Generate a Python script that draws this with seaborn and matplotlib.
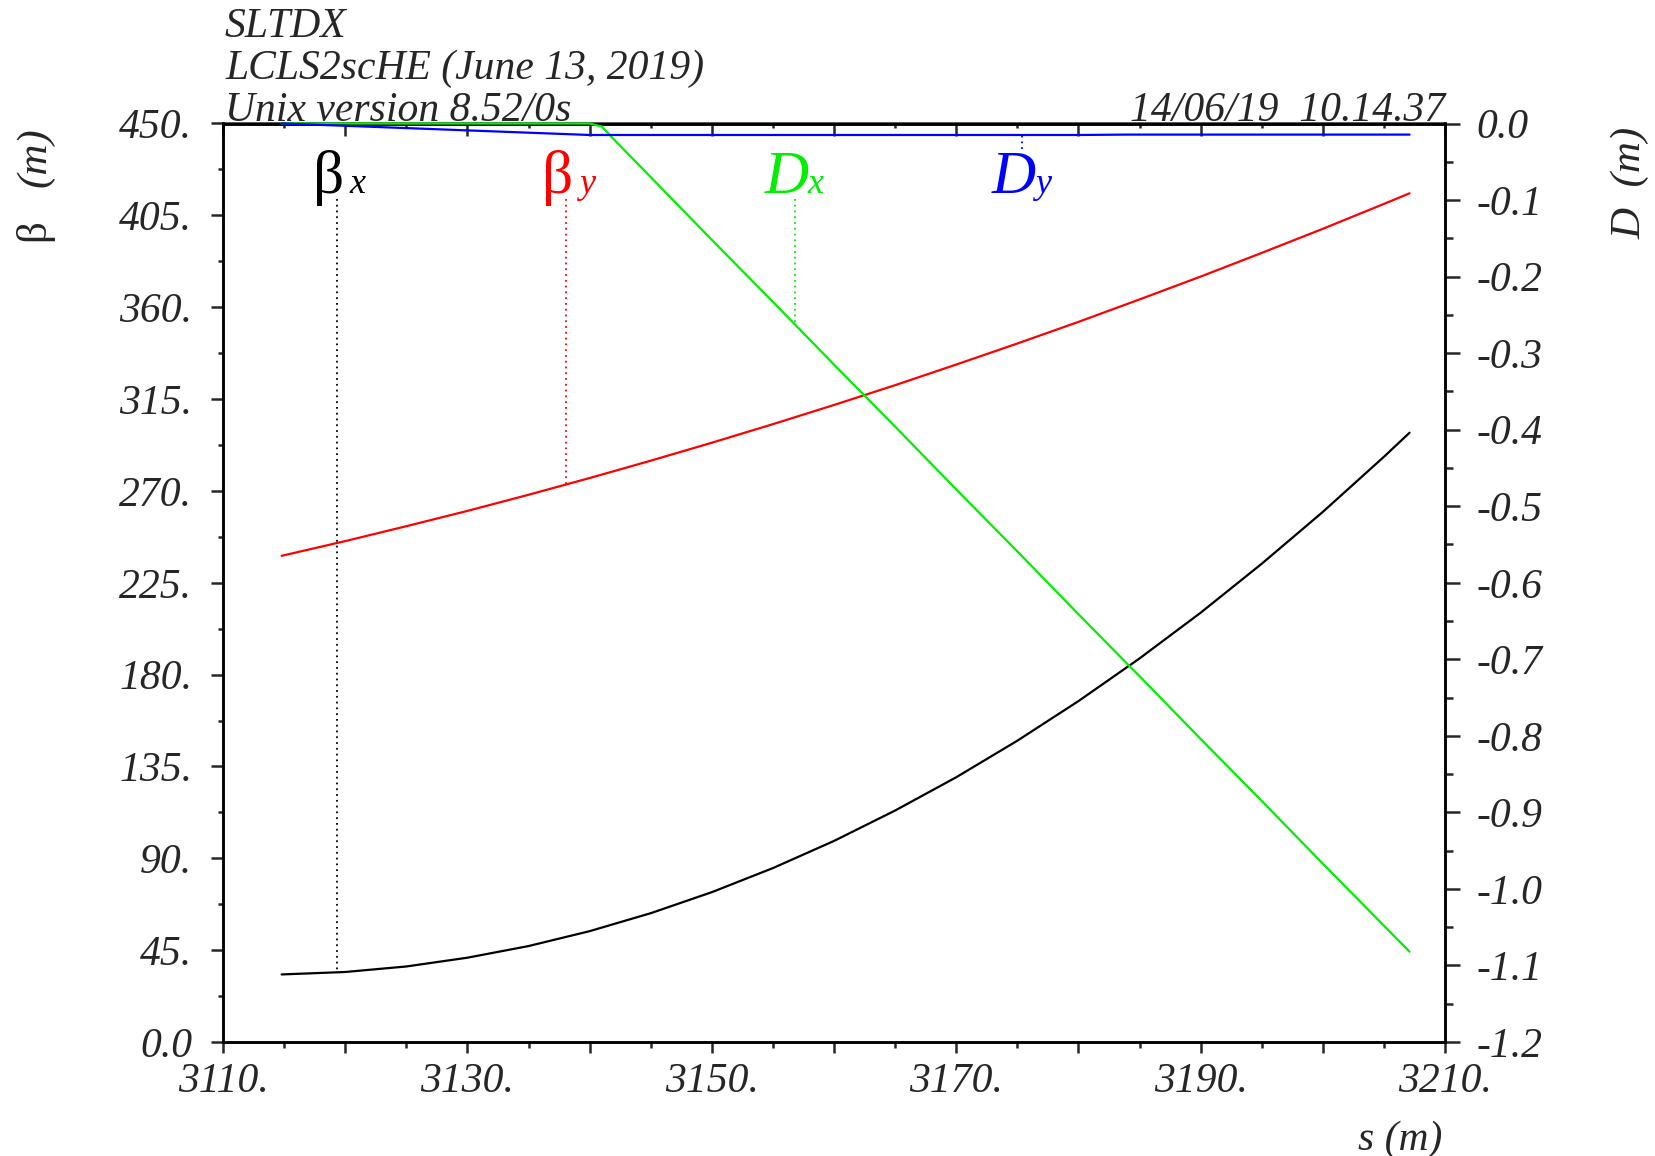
import numpy as np
import pandas as pd
import matplotlib
matplotlib.use("Agg")
import matplotlib.pyplot as plt
from matplotlib.ticker import FixedLocator, FixedFormatter, MultipleLocator, NullFormatter
import seaborn as sns

# ---------------- data ----------------
s_beta = [3114.8, 3120, 3125, 3130, 3135, 3140, 3145, 3150, 3155, 3160,
          3165, 3170, 3175, 3180, 3185, 3190, 3195, 3200, 3205, 3207.1]
beta_x = [33.1, 34.3, 37.0, 41.3, 47.0, 54.3, 63.1, 73.4, 85.2, 98.5,
          113.4, 129.7, 147.6, 167.0, 187.9, 210.3, 234.3, 259.7, 286.7, 298.5]
beta_y = [238.2, 245.4, 252.7, 260.2, 268.1, 276.3, 284.8, 293.6, 302.7, 312.1,
          321.8, 331.9, 342.2, 352.8, 363.8, 375.0, 386.6, 398.4, 410.6, 415.8]

s_disp = [3114.8, 3120, 3125, 3130, 3135, 3140, 3141, 3142, 3145, 3150, 3155,
          3160, 3165, 3170, 3175, 3180, 3184, 3185, 3190, 3195, 3200, 3205, 3207.1]
disp_x = [0.0, 0.0, 0.0, 0.0, 0.0, 0.0, -0.004, -0.021, -0.070, -0.152, -0.233,
          -0.315, -0.396, -0.478, -0.559, -0.641, -0.706, -0.722, -0.804, -0.885,
          -0.967, -1.048, -1.082]
disp_y = [0.0, -0.003, -0.006, -0.009, -0.012, -0.015, -0.015, -0.015, -0.015,
          -0.015, -0.015, -0.015, -0.015, -0.015, -0.015, -0.015, -0.0145, -0.0145,
          -0.0145, -0.0145, -0.0145, -0.0145, -0.0145]

x_ticks = [3110, 3120, 3130, 3140, 3150, 3160, 3170, 3180, 3190, 3200, 3210]
x_tick_labels = ["3110.", "", "3130.", "", "3150.", "", "3170.", "", "3190.", "", "3210."]
beta_ticks = [0, 45, 90, 135, 180, 225, 270, 315, 360, 405, 450]
beta_tick_labels = ["0.0", "45.", "90.", "135.", "180.", "225.", "270.", "315.",
                    "360.", "405.", "450."]
d_ticks = [0.0, -0.1, -0.2, -0.3, -0.4, -0.5, -0.6, -0.7, -0.8, -0.9, -1.0, -1.1, -1.2]
d_tick_labels = ["0.0", "-0.1", "-0.2", "-0.3", "-0.4", "-0.5", "-0.6", "-0.7",
                 "-0.8", "-0.9", "-1.0", "-1.1", "-1.2"]

header_lines = ["SLTDX", "LCLS2scHE (June 13, 2019)", "Unix version 8.52/0s"]
date_text = "14/06/19  10.14.37"

# label positions (s of the dotted leader lines)
lab_s = {"bx": 3119.3, "by": 3138.1, "dx": 3156.8, "dy": 3175.4}

# ---------------- style ----------------
sns.set_style("ticks")
plt.rcParams["font.family"] = ["Liberation Serif", "DejaVu Serif"]
plt.rcParams["font.style"] = "italic"

W, H = 1656, 1156
fig = plt.figure(figsize=(W / 100, H / 100), dpi=100)
L, R, T, B = 223, 1445, 123.5, 1042
ax = fig.add_axes([L / W, 1 - B / H, (R - L) / W, (B - T) / H])
ax2 = ax.twinx()

LW = 1.6
df_b = pd.DataFrame({"s": s_beta, "bx": beta_x, "by": beta_y})
df_d = pd.DataFrame({"s": s_disp, "dx": disp_x, "dy": disp_y})
sns.lineplot(data=df_b, x="s", y="bx", ax=ax, color="black", lw=LW, legend=False, zorder=3)
sns.lineplot(data=df_b, x="s", y="by", ax=ax, color="#ff0000", lw=LW, legend=False, zorder=3)
sns.lineplot(data=df_d, x="s", y="dx", ax=ax2, color="#00ee00", lw=LW, legend=False, zorder=3)
sns.lineplot(data=df_d, x="s", y="dy", ax=ax2, color="#0000ff", lw=LW, legend=False, zorder=3)
for a in (ax, ax2):
    for ln in a.get_lines():
        ln.set_clip_on(False)

ax.set_xlim(3110, 3210)
ax.set_ylim(0, 450)
ax2.set_ylim(-1.2, 0)
ax.set_xlabel("")
ax.set_ylabel("")
ax2.set_ylabel("")

TFS = 30
SPW = 1.8
for a in (ax, ax2):
    for sp in a.spines.values():
        sp.set_linewidth(SPW)
        sp.set_color("black")

ax.xaxis.set_major_locator(FixedLocator(x_ticks))
ax.xaxis.set_major_formatter(FixedFormatter(x_tick_labels))
ax.xaxis.set_minor_locator(MultipleLocator(5))
ax.yaxis.set_major_locator(FixedLocator(beta_ticks))
ax.yaxis.set_major_formatter(FixedFormatter(beta_tick_labels))
ax.yaxis.set_minor_locator(MultipleLocator(22.5))
ax2.yaxis.set_major_locator(FixedLocator(d_ticks))
ax2.yaxis.set_major_formatter(FixedFormatter(d_tick_labels))
ax2.yaxis.set_minor_locator(MultipleLocator(0.05))

ax.tick_params(axis="x", which="major", direction="out", length=8, width=SPW,
               labelsize=TFS, pad=7, top=False)
ax.tick_params(axis="x", which="minor", direction="out", length=4.3, width=SPW, top=False)
ax.tick_params(axis="y", which="major", direction="out", length=8.6, width=SPW,
               labelsize=TFS, pad=13.5, right=False)
ax.tick_params(axis="y", which="minor", direction="out", length=3.8, width=SPW, right=False)
ax2.tick_params(axis="y", which="major", direction="out", length=10.8, width=SPW,
                labelsize=TFS, pad=11.5)
ax2.tick_params(axis="y", which="minor", direction="out", length=5.8, width=SPW)

sec = ax.secondary_xaxis("top")
sec.xaxis.set_major_locator(FixedLocator(x_ticks))
sec.xaxis.set_minor_locator(MultipleLocator(5))
sec.xaxis.set_major_formatter(NullFormatter())
sec.tick_params(which="major", direction="in", length=9, width=SPW)
sec.tick_params(which="minor", direction="in", length=3.8, width=SPW)
sec.spines["top"].set_linewidth(SPW)

for lab in ax.get_xticklabels() + ax.get_yticklabels() + ax2.get_yticklabels():
    lab.set_fontstyle("italic")

# ---------------- texts ----------------
def fx(x):
    return x / W

def fy(y):
    return 1 - y / H

for txt, yb in zip(header_lines, [37, 79, 121]):
    fig.text(fx(225), fy(yb), txt, fontsize=TFS, style="italic", ha="left", va="baseline")
fig.text(fx(1445), fy(121), date_text, fontsize=TFS, style="italic", ha="right", va="baseline")

# left axis title: upright beta + italic (m)
fig.text(fx(35), fy(127), "(m)", fontsize=TFS + 1, style="italic",
         rotation=90, ha="center", va="top")
fig.text(fx(34), fy(230), "β", fontsize=TFS + 1, style="normal",
         rotation=90, ha="center", va="center")
# right axis title
fig.text(fx(1630), fy(127), "D  (m)", fontsize=TFS + 1, style="italic",
         rotation=90, ha="center", va="top")
fig.text(fx(1442), fy(1140), "s (m)", fontsize=TFS, style="italic", ha="right", va="center")

# curve labels with dotted leaders
LAB_Y = 0.924
MFS, SFS = 44, 26
labels = [("bx", "β", "x", "black", ax, s_beta, beta_x),
          ("by", "β", "y", "#ff0000", ax, s_beta, beta_y),
          ("dx", "D", "x", "#00ee00", ax2, s_disp, disp_x),
          ("dy", "D", "y", "#0000ff", ax2, s_disp, disp_y)]
for key, main, sub, col, a, xs, ys in labels:
    sx = lab_s[key]
    trans = ax.get_xaxis_transform()
    ax.annotate(main, xy=(sx, LAB_Y), xycoords=trans, xytext=(-6, 0),
                textcoords="offset points", ha="center", va="baseline",
                fontsize=MFS, color=col, style="normal" if main == "β" else "italic")
    ax.annotate(sub, xy=(sx, LAB_Y), xycoords=trans, xytext=(9, 0),
                textcoords="offset points", ha="left", va="baseline",
                fontsize=SFS, color=col, style="italic")
    yc = float(np.interp(sx, xs, ys))
    lo, hi = a.get_ylim()
    if key == "dy":
        y0 = lo + (hi - lo) * 0.972
    else:
        y0 = lo + (hi - lo) * 0.918
    a.plot([sx, sx], [y0, yc], color=col, lw=1.3, ls=(0, (1, 2.2)), zorder=2)

fig.savefig("out.png", dpi=100)
